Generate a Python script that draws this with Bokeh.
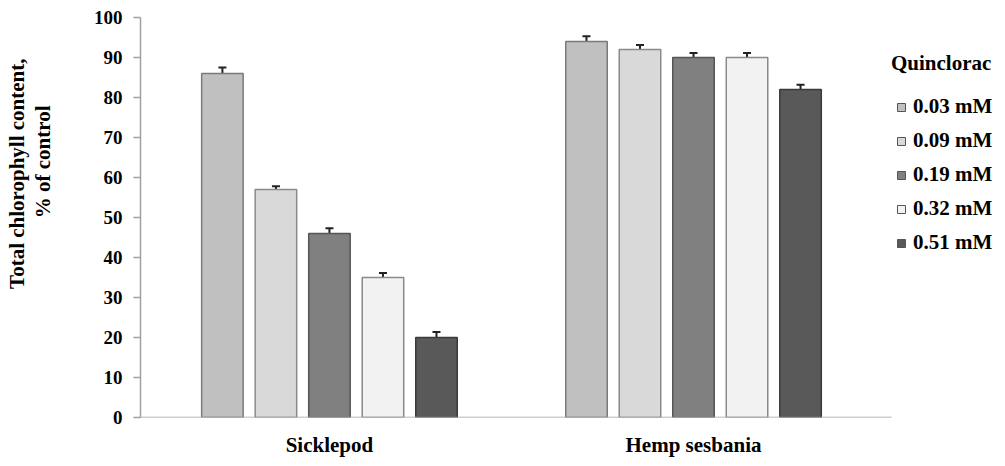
from bokeh.plotting import figure
from bokeh.models import (ColumnDataSource, Range1d, Legend, LegendItem, Title, LinearAxis,
                          Whisker, TeeHead, SingleIntervalTicker, FixedTicker)
from bokeh.embed import file_html
from bokeh.resources import INLINE

species = ["Sicklepod", "Hemp sesbania"]
doses = ["0.03 mM", "0.09 mM", "0.19 mM", "0.32 mM", "0.51 mM"]
# values per dose: [Sicklepod, Hemp sesbania]
v003 = [86, 94]
v009 = [57, 92]
v019 = [46, 90]
v032 = [35, 90]
v051 = [20, 82]
e003 = [1.5, 1.3]
e009 = [0.8, 1.1]
e019 = [1.3, 1.1]
e032 = [1.1, 1.1]
e051 = [1.4, 1.2]

values = [v003, v009, v019, v032, v051]
errors = [e003, e009, e019, e032, e051]
fills = ["#c0c0c0", "#d9d9d9", "#808080", "#f2f2f2", "#595959"]
lines = ["#7a7a7a", "#8a8a8a", "#555555", "#8a8a8a", "#3a3a3a"]

FONT = "Liberation Serif"

# layout (category units)
X_LO, X_HI, AXIS_HI = -0.519, 1.835, 1.544
pitch = 0.147
width = 0.114

centers = list(range(len(species)))
offsets = [(i - 2) * pitch for i in range(len(doses))]

p = figure(width=997, height=462, output_backend="svg", toolbar_location=None,
           x_range=Range1d(X_LO, X_HI), y_range=Range1d(0, 100),
           min_border_left=140, min_border_right=0, min_border_top=17,
           min_border_bottom=45)
p.outline_line_color = None
p.xgrid.visible = False
p.ygrid.visible = False
p.background_fill_color = "white"

items = []
for i in range(len(doses)):
    xs = [c + offsets[i] for c in centers]
    src = ColumnDataSource(dict(x=xs, top=values[i],
                                upper=[a + b for a, b in zip(values[i], errors[i])]))
    p.vbar(x="x", top="top", width=width, source=src,
           fill_color=fills[i], line_color=lines[i], line_width=1.5)
    w = Whisker(source=src, base="x", upper="upper", lower="top",
                line_color="#222222", line_width=2,
                upper_head=TeeHead(size=8, line_color="#222222", line_width=2),
                lower_head=None)
    p.add_layout(w)
    r = p.scatter(x="x", y="top", source=src, marker="square", fill_color=fills[i],
                  line_color="#555555", line_width=1, visible=False)
    items.append(LegendItem(label=doses[i], renderers=[r]))

# baseline (x axis line)
p.segment(x0=[X_LO], x1=[AXIS_HI], y0=[0], y1=[0], line_color="#a0a0a0", line_width=1.5)

legend = Legend(items=items, title="Quinclorac", location=(751, 162),
                padding=0, margin=0, spacing=9, glyph_width=20, glyph_height=24,
                label_height=24, label_standoff=2, title_standoff=18,
                border_line_color=None, background_fill_alpha=0)
legend.label_text_font = FONT
legend.label_text_font_style = "bold"
legend.label_text_font_size = "21px"
legend.title_text_font = FONT
legend.title_text_font_style = "bold"
legend.title_text_font_size = "21px"
legend.label_text_color = "black"
legend.title_text_color = "black"
p.add_layout(legend)

ya = p.yaxis[0]
ya.ticker = SingleIntervalTicker(interval=10, num_minor_ticks=0)
ya.axis_line_color = "#a0a0a0"
ya.axis_line_width = 1.5
ya.major_tick_line_color = "#a0a0a0"
ya.major_tick_line_width = 1.5
ya.major_tick_out = 7
ya.major_tick_in = 0
ya.minor_tick_line_color = None
ya.major_label_text_font = FONT
ya.major_label_text_font_style = "bold"
ya.major_label_text_font_size = "19px"
ya.major_label_text_color = "black"
ya.major_label_standoff = 11

# invisible spacer between tick labels and the y title
spacer = LinearAxis(ticker=FixedTicker(ticks=[50]), major_label_overrides={50: ""},
                    major_tick_out=36, major_tick_in=0, major_label_standoff=0,
                    axis_line_color=None, major_tick_line_color=None,
                    minor_tick_line_color=None)
p.add_layout(spacer, "left")

t2 = Title(text="% of control", align="right", offset=88, standoff=0,
           text_font=FONT, text_font_style="bold", text_font_size="21px",
           text_color="black")
t1 = Title(text="Total chlorophyll content,", align="right", offset=41, standoff=0,
           text_font=FONT, text_font_style="bold", text_font_size="21px",
           text_color="black")
p.add_layout(t2, "left")
p.add_layout(t1, "left")

xa = p.xaxis[0]
xa.ticker = FixedTicker(ticks=centers)
xa.major_label_overrides = {c: s for c, s in zip(centers, species)}
xa.axis_line_color = None
xa.major_tick_line_color = None
xa.major_tick_out = 0
xa.major_tick_in = 0
xa.minor_tick_line_color = None
xa.major_label_text_font = FONT
xa.major_label_text_font_style = "bold"
xa.major_label_text_font_size = "21px"
xa.major_label_text_color = "black"
xa.major_label_standoff = 15

open("out.html", "w").write(file_html(p, INLINE))
